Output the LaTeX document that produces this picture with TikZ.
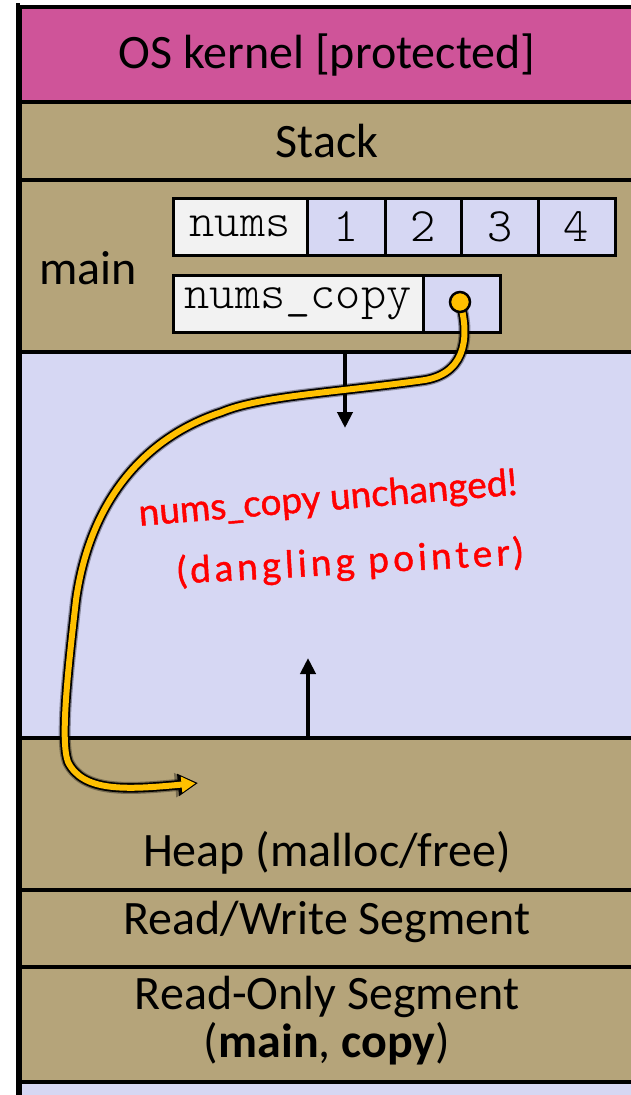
\documentclass[tikz,border=0pt]{standalone}
\usepackage{fontspec}
\setmainfont{Carlito}
\newfontfamily\codefont{Latin Modern Mono Light}
\newfontfamily\handfont{Lato}[FakeBold=1.2]
\newfontfamily\handwide{Lato}[LetterSpace=11, FakeBold=1.2]
\usetikzlibrary{arrows.meta}

\definecolor{kernelpink}{HTML}{CF5499}
\definecolor{segtan}{HTML}{B5A47A}
\definecolor{freelav}{HTML}{D6D7F3}
\definecolor{labelgray}{HTML}{F2F2F2}
\definecolor{ptryellow}{HTML}{FFC000}
\definecolor{inkred}{HTML}{FF0000}

\tikzset{
  band/.style={draw=black, line width=4pt, minimum width=618pt, inner sep=0pt, anchor=north west},
  bandtext/.style={font=\fontsize{48}{48}\selectfont, inner sep=0pt, align=center},
  cell/.style={draw=black, line width=3pt, fill=freelav, minimum height=57pt, inner sep=0pt,
               font=\codefont\fontsize{48}{48}\selectfont},
  namecell/.style={cell, fill=labelgray},
  growth/.style={line width=4pt, -{Triangle[length=16pt, width=15pt]}},
  ink/.style={text=inkred, inner sep=0pt},
}

\begin{document}
\begin{tikzpicture}[x=1pt, y=-1pt]
\useasboundingbox (0,0) rectangle (631,1095);
\begin{scope}
\clip (0,0) rectangle (631,1095);

% address-space segments, top to bottom
\node[band, fill=kernelpink, minimum height=95pt]  (kernel) at (18,5) {};
\node[band, fill=segtan,     minimum height=78pt]  (stack)  at (18,100) {};
\node[band, fill=segtan,     minimum height=172pt] (frame)  at (18,178) {};
\node[band, fill=freelav,    minimum height=386pt] (free)   at (18,350) {};
\node[band, fill=segtan,     minimum height=152pt] (heap)   at (18,736) {};
\node[band, fill=segtan,     minimum height=77pt]  (rw)     at (18,888) {};
\node[band, fill=segtan,     minimum height=115pt] (ro)     at (18,965) {};
\node[band, fill=freelav,    minimum height=40pt]  (low)    at (18,1080) {};

% segment labels
\node[bandtext] (kerneltxt) at (327,55)  {OS kernel [protected]};
\node[bandtext] (stacktxt)  at (327,141) {Stack};
\node[bandtext] (maintxt)   at (88,268)  {main};
\node[bandtext] (heaptxt)   at (327,853) {Heap (malloc/free)};
\node[bandtext] (rwtxt)     at (327,922) {Read/Write Segment};
\node[bandtext] (rotxt)     at (327,1021) {Read-Only Segment\\(\textbf{main}, \textbf{copy})};

% stack frame of main
\node[namecell, minimum width=134pt] (nums) at (240,226.5) {nums};
\node[cell, minimum width=78pt] (n1) at (346,226.5)   {1};
\node[cell, minimum width=77pt] (n2) at (423.5,226.5) {2};
\node[cell, minimum width=77pt] (n3) at (500,226.5)   {3};
\node[cell, minimum width=77pt] (n4) at (576.5,226.5) {4};
\node[namecell, minimum width=250pt] (copyname) at (298,303.5) {nums\_copy};
\node[cell, minimum width=77pt] (copyval) at (461.5,303.5) {};

% growth directions of stack and heap
\coordinate (stackgrow) at (345,428);
\coordinate (heapgrow)  at (308,658);
\draw[growth] (345,350) -- (stackgrow);
\draw[growth] (308,736) -- (heapgrow);

% handwritten note
\node[ink, rotate=4.7, font=\handfont\fontsize{37}{40}\selectfont] (note1) at (328,500) {nums\_copy unchanged!};
\node[ink, rotate=3.2, font=\handwide\fontsize{37}{40}\selectfont] (note2) at (350,563) {(dangling pointer)};

% dangling pointer into freed heap memory
\coordinate (ptrsrc) at (460,302);
\coordinate (ptrdst) at (198,783);
\def\ptrpath{(ptrsrc) .. controls (468,330) and (470,372) .. (425,380)
  .. controls (340,392) and (260,396) .. (222,412)
  .. controls (145,437) and (90,500) .. (76,600)
  .. controls (68,670) and (60,740) .. (68,762)
  .. controls (83,792) and (125,790) .. (ptrdst)}
\draw[black, opacity=0.35, line width=12pt, line cap=round, -{Triangle[length=23pt, width=23pt]}] \ptrpath;
\draw[black, line width=9.5pt, line cap=round, -{Triangle[length=20pt, width=21pt]}] \ptrpath;
\draw[ptryellow, line width=6pt, line cap=round, shorten >=2.5pt, -{Triangle[length=14pt, width=15pt]}] \ptrpath;
\node[circle, fill=ptryellow, draw=black, line width=2.5pt, minimum size=20pt, inner sep=0pt] (ptrdot) at (ptrsrc) {};
\end{scope}
% outer left edge of the address space
\draw[line width=4pt] (18,3) -- (18,1095);
\end{tikzpicture}
\end{document}
